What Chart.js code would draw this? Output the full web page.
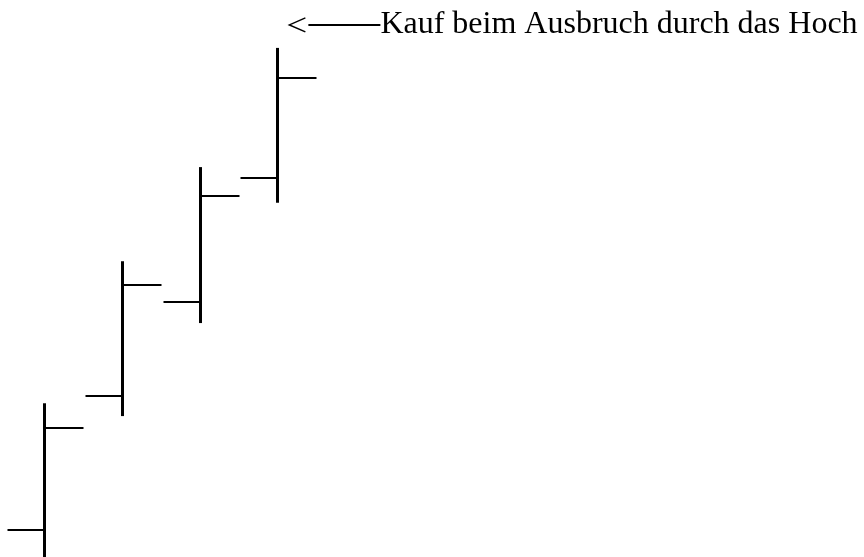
<!DOCTYPE html>
<html>
<head>
<meta charset="utf-8">
<script src="https://cdn.jsdelivr.net/npm/chart.js@4/dist/chart.umd.min.js"></script>
<style>
  html, body { margin: 0; padding: 0; background: #fff; }
  canvas { display: block; }
</style>
</head>
<body>
<canvas id="chart" width="864" height="557"></canvas>
<script>
// four bars, each breaking out above the previous high
const periods = [1, 2, 3, 4];
const opens  = [4.8, 28.9, 45.8, 68.0];
const highs  = [27.6, 53.1, 70.0, 91.4];
const lows   = [-2.0, 25.3, 42.0, 63.6];
const closes = [23.2, 48.8, 64.8, 86.0];
const note = "Kauf beim Ausbruch durch das Hoch";

const TICK_LEN = 37;

// draws open tick (left) and close tick (right) plus the high-low range
const ohlcPlugin = {
  id: "ohlc",
  afterDatasetsDraw(chart) {
    const { ctx, scales: { x, y } } = chart;
    ctx.save();
    ctx.strokeStyle = "#000";
    ctx.lineCap = "butt";
    periods.forEach((p, i) => {
      const px = Math.round(x.getPixelForValue(p)) + 0.5;
      ctx.lineWidth = 3;
      ctx.beginPath();
      ctx.moveTo(px, y.getPixelForValue(highs[i]));
      ctx.lineTo(px, y.getPixelForValue(lows[i]));
      ctx.stroke();

      ctx.lineWidth = 2;
      const yo = Math.round(y.getPixelForValue(opens[i]));
      ctx.beginPath();
      ctx.moveTo(px - TICK_LEN, yo);
      ctx.lineTo(px, yo);
      ctx.stroke();

      const yc = Math.round(y.getPixelForValue(closes[i]));
      ctx.beginPath();
      ctx.moveTo(px, yc);
      ctx.lineTo(px + TICK_LEN + 2, yc);
      ctx.stroke();
    });

    // annotation pointing at the last high
    const last = periods.length - 1;
    const tipX = x.getPixelForValue(periods[last]) + 12;
    const tipY = y.getPixelForValue(highs[last]) - 23;
    ctx.lineWidth = 1.5;
    ctx.beginPath();
    ctx.moveTo(tipX + 16, tipY - 7);
    ctx.lineTo(tipX, tipY);
    ctx.lineTo(tipX + 16, tipY + 7);
    ctx.stroke();
    ctx.lineWidth = 2;
    ctx.beginPath();
    ctx.moveTo(tipX + 19, tipY);
    ctx.lineTo(tipX + 91, tipY);
    ctx.stroke();

    ctx.fillStyle = "#000";
    ctx.font = "32px 'Liberation Serif', 'Times New Roman', serif";
    ctx.textBaseline = "alphabetic";
    ctx.fillText(note, tipX + 91, tipY + 8);
    ctx.restore();
  }
};

new Chart(document.getElementById("chart"), {
  type: "scatter",
  data: {
    datasets: [{
      data: periods.map((p, i) => ({ x: p, y: closes[i] })),
      pointRadius: 0,
      showLine: false,
    }],
  },
  options: {
    responsive: false,
    animation: false,
    layout: { padding: 0 },
    scales: {
      x: { display: false, min: 0.43, max: 11.55 },
      y: { display: false, min: 0, max: 100 },
    },
    plugins: { legend: { display: false }, tooltip: { enabled: false } },
  },
  plugins: [ohlcPlugin],
});
</script>
</body>
</html>
